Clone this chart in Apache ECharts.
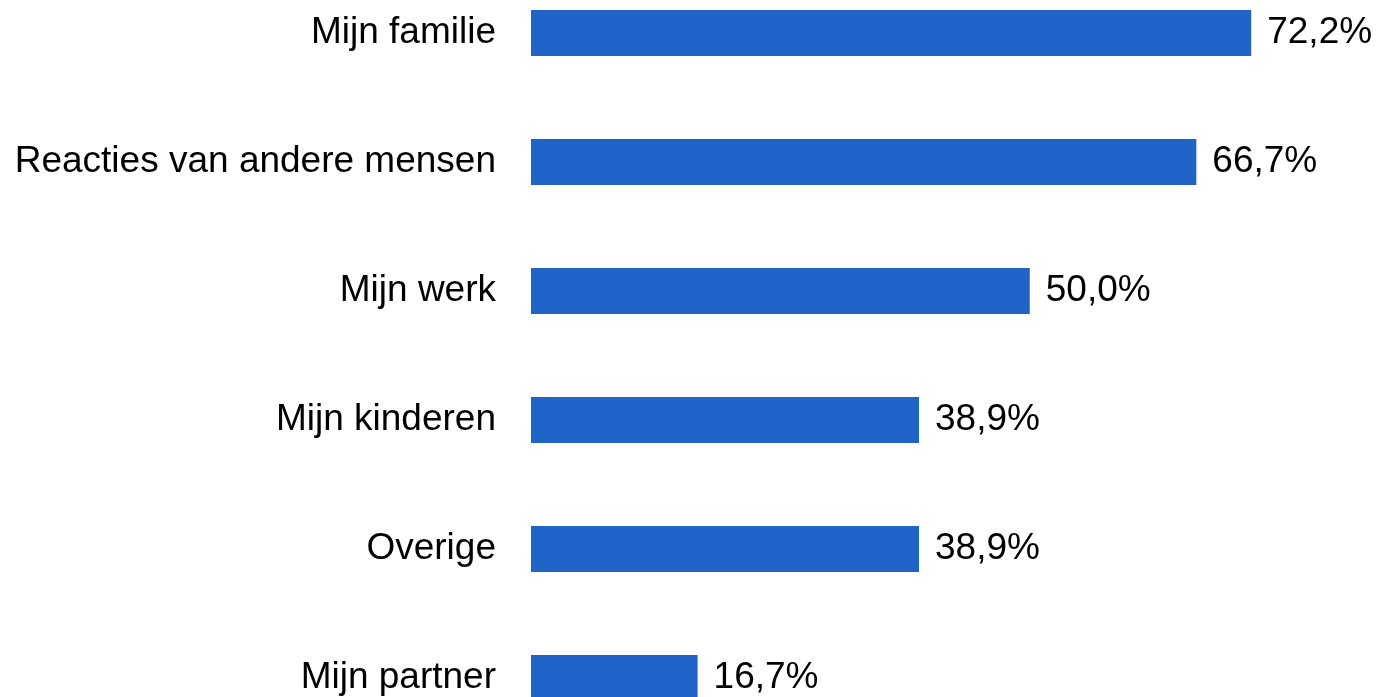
<!DOCTYPE html>
<html>
<head>
<meta charset="utf-8">
<script src="https://cdn.jsdelivr.net/npm/echarts@6/dist/echarts.min.js"></script>
<style>
    html, body { margin: 0; padding: 0; background: #ffffff; }
    #chart-container { width: 1378px; height: 697px; }
</style>
</head>
<body>
<div id="chart-container"></div>
<script>
    // categories top to bottom
    const categories = [
        'Mijn familie',
        'Reacties van andere mensen',
        'Mijn werk',
        'Mijn kinderen',
        'Overige',
        'Mijn partner'
    ];
    const values = [72.2, 66.7, 50.0, 38.9, 38.9, 16.7];

    const chartDom = document.getElementById('chart-container');
    const myChart = echarts.init(chartDom, null, { renderer: 'canvas' });

    const option = {
        animation: false,
        backgroundColor: '#ffffff',
        textStyle: { fontFamily: 'Liberation Sans, Arial, sans-serif' },
        grid: {
            left: 531,
            width: 798,
            top: -31.5,
            height: 774,
            // the last band runs past the bottom edge, so don't squeeze the grid in
            outerBoundsMode: 'none',
            containLabel: false
        },
        xAxis: {
            type: 'value',
            min: 0,
            max: 80,
            show: false
        },
        yAxis: {
            type: 'category',
            data: categories,
            inverse: true,
            axisLine: { show: false },
            axisTick: { show: false },
            axisLabel: {
                margin: 35,
                fontSize: 37,
                color: '#000000',
                padding: [6, 0, 0, 0],
                fontFamily: 'Liberation Sans, Arial, sans-serif'
            }
        },
        series: [{
            type: 'bar',
            data: values,
            barWidth: 46,
            itemStyle: { color: '#2064C8' },
            label: {
                show: true,
                position: 'right',
                distance: 16,
                fontSize: 37,
                color: '#000000',
                padding: [6, 0, 0, 0],
                fontFamily: 'Liberation Sans, Arial, sans-serif',
                formatter: p => p.value.toFixed(1).replace('.', ',') + '%'
            }
        }]
    };
    myChart.setOption(option);
</script>
</body>
</html>
